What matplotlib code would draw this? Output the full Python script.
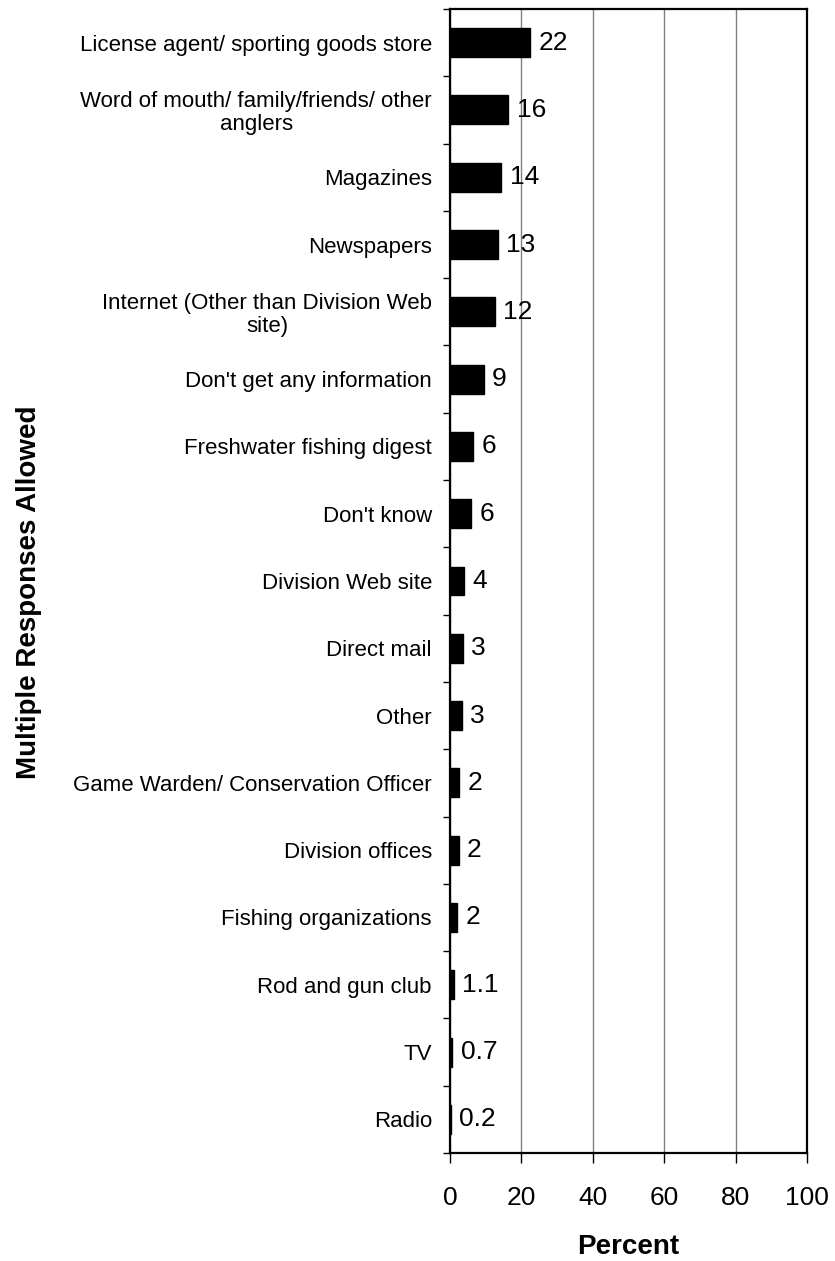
"""
Sources of fishing information - horizontal bar chart
"""

import matplotlib

matplotlib.use("Agg")
import matplotlib.pyplot as plt
import numpy as np

plt.rcParams["font.family"] = ["Liberation Sans", "DejaVu Sans"]

# categories, top to bottom
categories = [
    "License agent/ sporting goods store",
    "Word of mouth/ family/friends/ other\nanglers",
    "Magazines",
    "Newspapers",
    "Internet (Other than Division Web\nsite)",
    "Don't get any information",
    "Freshwater fishing digest",
    "Don't know",
    "Division Web site",
    "Direct mail",
    "Other",
    "Game Warden/ Conservation Officer",
    "Division offices",
    "Fishing organizations",
    "Rod and gun club",
    "TV",
    "Radio",
]
percent = [22.5, 16.3, 14.4, 13.4, 12.5, 9.4, 6.4, 6.0, 4.0, 3.6, 3.4, 2.5, 2.4, 2.0, 1.1, 0.7, 0.2]
value_labels = ["22", "16", "14", "13", "12", "9", "6", "6", "4", "3", "3", "2", "2", "2", "1.1", "0.7", "0.2"]
x_ticks = [0, 20, 40, 60, 80, 100]

W, H = 835, 1261
fig = plt.figure(figsize=(W / 100, H / 100), dpi=100)
ax = fig.add_axes([450 / W, 1 - 1153 / H, 357 / W, 1144 / H])

y = np.arange(len(categories))
ax.barh(y, percent, height=0.43, color="black", edgecolor="black", zorder=3)

# value labels just past the bar ends
for yi, v, lab in zip(y, percent, value_labels):
    ax.annotate(
        lab,
        xy=(v, yi),
        xytext=(6, 0),
        textcoords="offset points",
        va="center",
        ha="left",
        fontsize=19,
        zorder=4,
    )

ax.set_xlim(0, 100)
ax.set_ylim(len(categories) - 0.5, -0.5)

# vertical gridlines
ax.set_xticks(x_ticks)
ax.set_xticklabels([str(t) for t in x_ticks], fontsize=19)
ax.grid(axis="x", color="#808080", linewidth=1.0, zorder=0)
ax.tick_params(axis="x", direction="out", length=7, width=1, pad=17)

# category labels at bar centres, tick marks at the boundaries
ax.set_yticks(y)
ax.set_yticklabels(categories, fontsize=16, linespacing=1.1)
for lbl in ax.get_yticklabels():
    lbl.set_multialignment("center")
ax.set_yticks(np.arange(-0.5, len(categories), 1.0), minor=True)
ax.tick_params(axis="y", which="major", length=0, pad=13)
ax.tick_params(axis="y", which="minor", direction="out", length=5, width=1)

for s in ax.spines.values():
    s.set_linewidth(1.6)
    s.set_color("black")

ax.set_xlabel("Percent", fontsize=20, fontweight="bold")
ax.xaxis.set_label_coords(0.5, -0.071)
ax.set_ylabel("Multiple Responses Allowed", fontsize=20, fontweight="bold")
ax.yaxis.set_label_coords(-1.143, 0.49)

plt.savefig("out.png", dpi=100)
